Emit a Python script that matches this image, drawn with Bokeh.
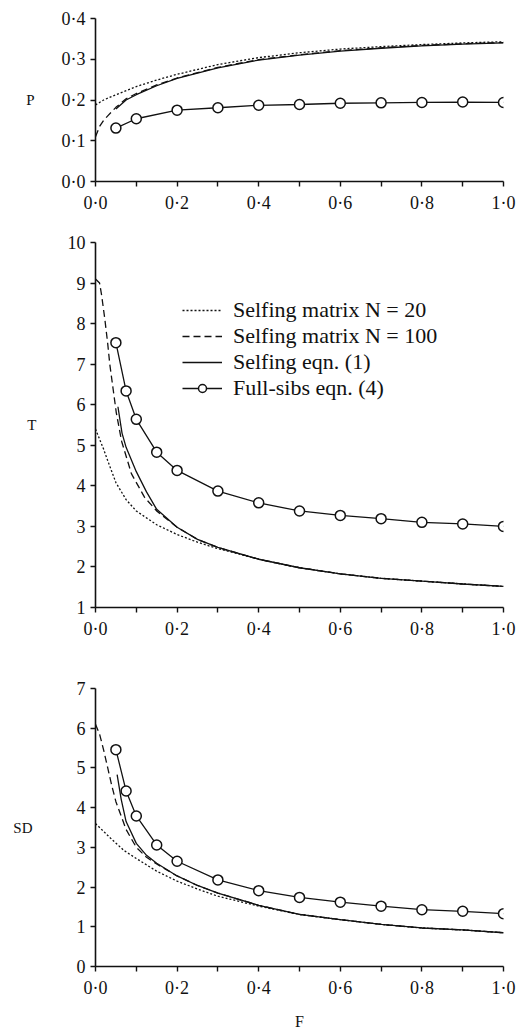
from bokeh.plotting import figure
from bokeh.models import (Range1d, FixedTicker, CustomJSTickFormatter,
                          Legend, LegendItem)
from bokeh.layouts import column
from bokeh.embed import file_html
from bokeh.resources import INLINE

# ---------------- data ----------------
X_TICKS = [0.0, 0.2, 0.4, 0.6, 0.8, 1.0]
X_MINOR = [0.1, 0.3, 0.5, 0.7, 0.9]
P_TICKS = [0.0, 0.1, 0.2, 0.3, 0.4]
T_TICKS = [1, 2, 3, 4, 5, 6, 7, 8, 9, 10]
SD_TICKS = [0, 1, 2, 3, 4, 5, 6, 7]

LEGEND_LABELS = ["Selfing matrix N = 20", "Selfing matrix N = 100",
                 "Selfing eqn. (1)", "Full-sibs eqn. (4)"]

# Panel P
F_sib_P = [0.05, 0.1, 0.2, 0.3, 0.4, 0.5, 0.6, 0.7, 0.8, 0.9, 1.0]
P_sib = [0.131, 0.154, 0.175, 0.181, 0.187, 0.189, 0.192, 0.193, 0.194, 0.195, 0.194]
F_m20_P = [0, 0.02, 0.05, 0.1, 0.15, 0.2, 0.3, 0.4, 0.5, 0.6, 0.7, 0.8, 0.9, 1.0]
P_m20 = [0.188, 0.200, 0.213, 0.233, 0.249, 0.263, 0.287, 0.304, 0.316, 0.325, 0.331, 0.336, 0.340, 0.343]
F_m100_P = [0, 0.01, 0.02, 0.03, 0.05, 0.075, 0.1, 0.15, 0.2, 0.3, 0.4, 0.5, 0.6, 0.7, 0.8, 0.9, 1.0]
P_m100 = [0.110, 0.135, 0.150, 0.161, 0.182, 0.203, 0.216, 0.237, 0.254, 0.280, 0.299, 0.311, 0.321, 0.328, 0.334, 0.338, 0.341]
F_eq_P = [0.05, 0.075, 0.1, 0.15, 0.2, 0.3, 0.4, 0.5, 0.6, 0.7, 0.8, 0.9, 1.0]
P_eq = [0.178, 0.200, 0.213, 0.235, 0.253, 0.279, 0.298, 0.310, 0.320, 0.327, 0.333, 0.337, 0.340]

# Panel T
F_sib_T = [0.05, 0.075, 0.1, 0.15, 0.2, 0.3, 0.4, 0.5, 0.6, 0.7, 0.8, 0.9, 1.0]
T_sib = [7.53, 6.34, 5.64, 4.83, 4.38, 3.87, 3.58, 3.38, 3.27, 3.19, 3.10, 3.06, 3.00]
F_m20_T = [0, 0.01, 0.02, 0.03, 0.05, 0.075, 0.1, 0.15, 0.2, 0.25, 0.3, 0.4, 0.5, 0.6, 0.7, 0.8, 0.9, 1.0]
T_m20 = [5.40, 5.15, 4.90, 4.62, 4.08, 3.66, 3.38, 3.04, 2.80, 2.61, 2.45, 2.19, 1.98, 1.83, 1.72, 1.65, 1.58, 1.52]
F_m100_T = [0, 0.01, 0.015, 0.023, 0.03, 0.035, 0.043, 0.051, 0.064, 0.088, 0.12, 0.15, 0.2, 0.25, 0.3, 0.4, 0.5, 0.6, 0.7, 0.8, 0.9, 1.0]
T_m100 = [9.10, 9.00, 8.70, 8.10, 7.50, 7.00, 6.40, 5.80, 5.10, 4.30, 3.72, 3.38, 2.98, 2.68, 2.48, 2.19, 1.98, 1.83, 1.72, 1.65, 1.58, 1.52]
F_eq_T = [0.055, 0.065, 0.075, 0.1, 0.125, 0.15, 0.2, 0.25, 0.3, 0.4, 0.5, 0.6, 0.7, 0.8, 0.9, 1.0]
T_eq = [5.95, 5.30, 4.95, 4.35, 3.85, 3.42, 2.98, 2.68, 2.48, 2.19, 1.98, 1.83, 1.72, 1.65, 1.58, 1.52]

# Panel SD
F_sib_SD = [0.05, 0.075, 0.1, 0.15, 0.2, 0.3, 0.4, 0.5, 0.6, 0.7, 0.8, 0.9, 1.0]
SD_sib = [5.46, 4.42, 3.79, 3.06, 2.65, 2.18, 1.91, 1.74, 1.62, 1.52, 1.43, 1.39, 1.33]
F_m20_SD = [0, 0.02, 0.04, 0.07, 0.1, 0.15, 0.2, 0.25, 0.3, 0.4, 0.5, 0.6, 0.7, 0.8, 0.9, 1.0]
SD_m20 = [3.60, 3.40, 3.20, 2.92, 2.72, 2.40, 2.15, 1.95, 1.77, 1.52, 1.31, 1.18, 1.06, 0.97, 0.92, 0.85]
F_m100_SD = [0, 0.01, 0.02, 0.03, 0.04, 0.05, 0.075, 0.1, 0.125, 0.15, 0.2, 0.25, 0.3, 0.4, 0.5, 0.6, 0.7, 0.8, 0.9, 1.0]
SD_m100 = [6.10, 5.85, 5.45, 5.00, 4.55, 4.15, 3.45, 3.00, 2.75, 2.58, 2.28, 2.04, 1.85, 1.54, 1.31, 1.18, 1.06, 0.97, 0.92, 0.85]
F_eq_SD = [0.053, 0.063, 0.075, 0.1, 0.125, 0.15, 0.2, 0.25, 0.3, 0.4, 0.5, 0.6, 0.7, 0.8, 0.9, 1.0]
SD_eq = [4.83, 4.21, 3.65, 3.10, 2.80, 2.60, 2.28, 2.04, 1.85, 1.54, 1.31, 1.18, 1.06, 0.97, 0.92, 0.85]

# ---------------- style ----------------
FONT = "Liberation Serif"
INK = "#111111"
DOT = "2 2"
DASH = "7 4"
LW = 1.3

dotfmt = CustomJSTickFormatter(code="return tick.toFixed(1).replace('.', '\u00b7');")


def make_fig(height, top, bottom, left, right, yr, yticks, yfmt, ylabel, ylab_standoff):
    p = figure(width=524, height=height, x_range=Range1d(0, 1), y_range=Range1d(*yr),
               output_backend="svg", toolbar_location=None,
               min_border_top=top, min_border_bottom=bottom,
               min_border_left=left, min_border_right=right)
    p.xgrid.visible = False
    p.ygrid.visible = False
    p.outline_line_color = None
    p.background_fill_color = "white"
    p.border_fill_color = "white"
    xa = p.xaxis[0]
    ya = p.yaxis[0]
    xa.ticker = FixedTicker(ticks=X_TICKS, minor_ticks=X_MINOR)
    xa.formatter = dotfmt
    ya.ticker = FixedTicker(ticks=yticks, minor_ticks=[])
    if yfmt is not None:
        ya.formatter = yfmt
    for ax in (xa, ya):
        ax.axis_line_width = 1.6
        ax.axis_line_color = INK
        ax.major_tick_line_width = 1.4
        ax.minor_tick_line_width = 1.4
        ax.major_tick_line_color = INK
        ax.minor_tick_line_color = INK
        ax.major_tick_in = 0
        ax.major_tick_out = 5
        ax.minor_tick_in = 0
        ax.minor_tick_out = 5
        ax.major_label_text_font = FONT
        ax.major_label_text_font_size = "18px"
        ax.major_label_text_color = INK
    xa.major_label_standoff = 6
    ya.major_label_standoff = 5
    ya.axis_label = ylabel
    ya.axis_label_orientation = "horizontal"
    ya.axis_label_text_font = FONT
    ya.axis_label_text_font_size = "15px"
    ya.axis_label_text_font_style = "normal"
    ya.axis_label_text_color = INK
    ya.axis_label_standoff = ylab_standoff
    return p


def draw(p, fm20, ym20, fm100, ym100, feq, yeq, fsib, ysib):
    r1 = p.line(fm20, ym20, line_color=INK, line_width=LW, line_dash=DOT)
    r2 = p.line(fm100, ym100, line_color=INK, line_width=LW, line_dash=DASH)
    r3 = p.line(feq, yeq, line_color=INK, line_width=LW)
    r4 = p.line(fsib, ysib, line_color=INK, line_width=LW)
    r5 = p.scatter(fsib, ysib, marker="circle", size=10, fill_color="white",
                   line_color=INK, line_width=1.5)
    return r1, r2, r3, r4, r5


p1 = make_fig(225, 18, 44, 95, 14, (0, 0.4), P_TICKS, dotfmt, "P", 24)
draw(p1, F_m20_P, P_m20, F_m100_P, P_m100, F_eq_P, P_eq, F_sib_P, P_sib)

p2 = make_fig(425, 17, 43, 92, 18, (1, 10), T_TICKS, None, "T", 28)
r1, r2, r3, r4, r5 = draw(p2, F_m20_T, T_m20, F_m100_T, T_m100, F_eq_T, T_eq, F_sib_T, T_sib)
legend = Legend(items=[LegendItem(label=LEGEND_LABELS[0], renderers=[r1]),
                       LegendItem(label=LEGEND_LABELS[1], renderers=[r2]),
                       LegendItem(label=LEGEND_LABELS[2], renderers=[r3]),
                       LegendItem(label=LEGEND_LABELS[3], renderers=[r4, r5])],
                location=(87, 206), label_text_font=FONT, label_text_font_size="22px",
                label_text_color=INK, glyph_width=40, glyph_height=20, label_height=20,
                spacing=-2, padding=0, margin=0, label_standoff=11,
                border_line_color=None, background_fill_alpha=0)
p2.add_layout(legend)

p3 = make_fig(382, 38, 63, 89, 21, (0, 7), SD_TICKS, None, "SD", 41)
draw(p3, F_m20_SD, SD_m20, F_m100_SD, SD_m100, F_eq_SD, SD_eq, F_sib_SD, SD_sib)
p3.xaxis[0].axis_label = "F"
p3.xaxis[0].axis_label_text_font = FONT
p3.xaxis[0].axis_label_text_font_size = "16px"
p3.xaxis[0].axis_label_text_font_style = "normal"
p3.xaxis[0].axis_label_text_color = INK
p3.xaxis[0].axis_label_standoff = 12

layout = column(p1, p2, p3, spacing=0)
open("out.html", "w").write(file_html(layout, INLINE))
